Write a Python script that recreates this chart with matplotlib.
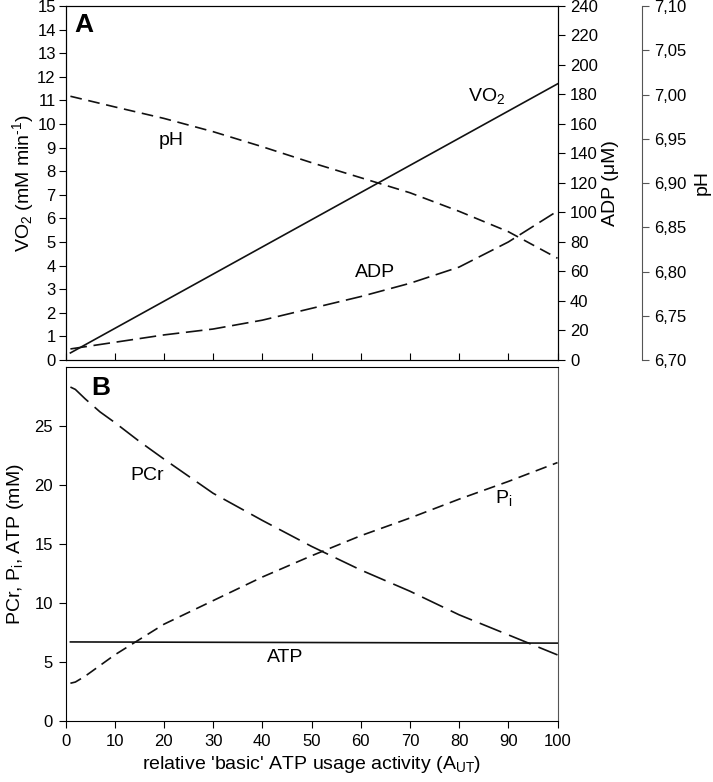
import matplotlib
matplotlib.use("Agg")
import matplotlib.pyplot as plt
from matplotlib.ticker import FuncFormatter

plt.rcParams['font.family'] = ['Liberation Sans', 'DejaVu Sans']
plt.rcParams['font.size'] = 12
plt.rcParams['axes.labelsize'] = 14
plt.rcParams['mathtext.fontset'] = 'custom'
plt.rcParams['mathtext.rm'] = 'Liberation Sans'
plt.rcParams['mathtext.it'] = 'Liberation Sans'

# panel A data
x_vo2 = [1, 100]
vo2 = [0.3, 11.7]
x_a = [1, 10, 20, 30, 40, 50, 60, 70, 80, 90, 100]
adp = [7.5, 12, 17, 21, 27, 35, 43, 52, 63, 80, 101]
ph = [6.998, 6.986, 6.973, 6.958, 6.941, 6.923, 6.906, 6.889, 6.868, 6.845, 6.815]

# panel B data
x_b = [1, 2, 4, 7, 10, 15, 20, 30, 40, 50, 60, 70, 80, 90, 100]
pcr = [28.3, 28.1, 27.3, 26.2, 25.3, 23.7, 22.2, 19.3, 17.0, 14.8, 12.8, 11.0, 9.0, 7.3, 5.6]
pi = [3.2, 3.3, 3.8, 4.7, 5.6, 6.9, 8.2, 10.2, 12.2, 14.0, 15.7, 17.2, 18.8, 20.3, 21.9]
x_atp = [1, 100]
atp = [6.7, 6.6]

fig = plt.figure(figsize=(7.13, 7.82), dpi=100)
W, H = 713, 782
L, R = 65.5, 557.5
axA = fig.add_axes([L / W, 1 - 360 / H, (R - L) / W, 354 / H])
axB = fig.add_axes([L / W, 1 - 721 / H, (R - L) / W, 354 / H])

# ---- panel A ----
axA.plot(x_vo2, vo2, color='#111111', lw=1.2)
axA.set_xlim(0, 100)
axA.set_ylim(0, 15)
axA.set_yticks(range(0, 16))
axA.set_xticks(range(0, 101, 10))
axA.tick_params(axis='x', direction='in', labelbottom=False, length=5)
axA.tick_params(axis='y', direction='out', length=5, pad=2)
axA.set_ylabel('VO$_2$ (mM min$^{\u2010 1}$)', labelpad=1)

axADP = axA.twinx()
axADP.plot(x_a, adp, color='#111111', lw=1.2, dashes=(10, 4))
axADP.set_ylim(0, 240)
axADP.set_yticks(range(0, 241, 20))
axADP.tick_params(axis='y', direction='out', length=5, pad=4)
axADP.set_ylabel('ADP (\u03bcM)', labelpad=3)

axPH = axA.twinx()
axPH.spines['right'].set_position(('axes', (642 - L) / (R - L)))
axPH.spines['right'].set_color('#555555')
for s in ['top', 'bottom', 'left']:
    axPH.spines[s].set_visible(False)
axPH.plot(x_a, ph, color='#111111', lw=1.2, dashes=(7, 4))
axPH.set_ylim(6.70, 7.10)
axPH.set_yticks([6.70 + 0.05 * i for i in range(9)])
axPH.yaxis.set_major_formatter(FuncFormatter(lambda v, p: f"{v:.2f}".replace('.', ',')))
axPH.tick_params(axis='y', direction='out', length=5, pad=4, color='#555555')
axPH.set_ylabel('pH', labelpad=5)

axA.text(3.8, 14.2, 'A', fontsize=19, fontweight='bold', va='center', ha='center')
axA.text(21.5, 9.3, 'pH', fontsize=14, va='center', ha='center')
axA.text(85.5, 11.2, 'VO$_2$', fontsize=14, va='center', ha='center')
axA.text(63, 3.7, 'ADP', fontsize=14, va='center', ha='center')

# ---- panel B ----
axB.plot(x_b, pcr, color='#111111', lw=1.2, dashes=(14, 5))
axB.plot(x_b, pi, color='#111111', lw=1.2, dashes=(7, 4))
axB.plot(x_atp, atp, color='#111111', lw=1.2)
axB.set_xlim(0, 100)
axB.set_ylim(0, 30)
axB.set_yticks(range(0, 26, 5))
axB.set_xticks(range(0, 101, 10))
axB.tick_params(direction='out', length=5, pad=4)
axB.spines['right'].set_color('#555555')
axB.set_ylabel('PCr, P$_i$, ATP (mM)', labelpad=6)
axB.set_xlabel("relative 'basic' ATP usage activity (A$_{UT}$)", labelpad=4)

axB.text(7.2, 28.2, 'B', fontsize=19, fontweight='bold', va='center', ha='center')
axB.text(16.6, 20.8, 'PCr', fontsize=14, va='center', ha='center')
axB.text(89, 18.9, 'P$_i$', fontsize=14, va='center', ha='center')
axB.text(44.7, 5.4, 'ATP', fontsize=14, va='center', ha='center')

fig.savefig('out.png', dpi=100)
